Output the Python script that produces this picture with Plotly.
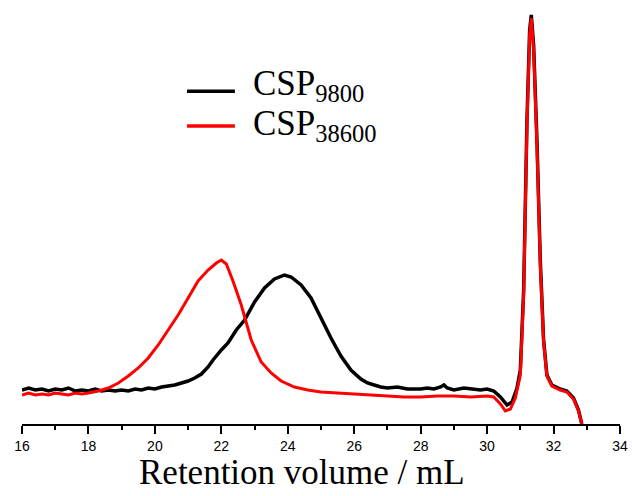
import plotly.graph_objects as go

# Retention volume (mL) and detector signal (arbitrary units, baseline ~0 at axis)
x_9800 = [16.0, 16.2, 16.4, 16.6, 16.8, 17.0, 17.2, 17.4, 17.6, 17.8, 18.0, 18.2, 18.4, 18.6,
          18.8, 19.0, 19.2, 19.4, 19.6, 19.8, 20.0, 20.2, 20.4, 20.6, 20.8, 21.0, 21.2,
          21.4, 21.6, 21.75, 22.0, 22.2, 22.45, 22.7, 23.0, 23.3, 23.6, 23.9, 24.1, 24.4,
          24.7, 25.0, 25.3, 25.6, 25.9, 26.2, 26.4, 26.6, 26.8, 27.0, 27.3, 27.6, 28.0,
          28.2, 28.4, 28.6, 28.7, 28.8, 29.0, 29.3, 29.5, 29.8, 30.0, 30.2, 30.4, 30.6,
          30.75, 30.9, 31.0, 31.1, 31.2, 31.28, 31.33, 31.4, 31.5, 31.6, 31.7, 31.8, 31.95,
          32.2, 32.4, 32.6, 32.75, 32.85]
y_9800 = [34, 36, 34, 35, 33, 35, 34, 36, 33, 34, 33, 35, 33, 34,
          33, 34, 33, 35, 34, 36, 35, 37, 38, 39, 41, 43, 46,
          50, 57, 64, 74, 81, 94, 104, 122, 136, 145, 149, 147, 139,
          126, 106, 86, 68, 54, 45, 41, 39, 37, 36, 37, 35, 35,
          36, 35, 37, 39, 36, 34, 36, 35, 34, 35, 33, 27, 19,
          22, 36, 54, 134, 304, 394, 409, 379, 284, 164, 84, 49, 39,
          35, 33, 26, 14, 0]

x_38600 = [16.0, 16.2, 16.4, 16.6, 16.8, 17.0, 17.2, 17.4, 17.6, 17.8, 18.0, 18.3, 18.6, 18.9,
           19.2, 19.5, 19.8, 20.1, 20.4, 20.7, 21.0, 21.3, 21.6, 21.85, 22.0, 22.15, 22.35,
           22.6, 22.9, 23.2, 23.5, 23.8, 24.2, 24.6, 25.0, 25.5, 26.0, 26.5, 27.0, 27.5,
           28.0, 28.5, 29.0, 29.5, 30.0, 30.2, 30.4, 30.55, 30.7, 30.85, 31.0, 31.1, 31.2,
           31.28, 31.33, 31.4, 31.5, 31.6, 31.7, 31.8, 31.95, 32.2, 32.4, 32.6, 32.75, 32.85]
y_38600 = [29, 31, 29, 30, 29, 31, 30, 29, 31, 30, 31, 33, 36, 41,
           48, 56, 66, 79, 94, 109, 126, 143, 154, 161, 164, 160, 143,
           119, 84, 62, 51, 43, 37, 34, 32, 31, 30, 29, 28, 27,
           27, 28, 28, 27, 28, 27, 20, 13, 15, 26, 49, 129, 299,
           389, 406, 374, 279, 159, 82, 48, 38, 34, 32, 25, 13, 0]

x_ticks = [16, 18, 20, 22, 24, 26, 28, 30, 32, 34]

series_names = ["CSP<sub>9800</sub>", "CSP<sub>38600</sub>"]
series_colors = ["black", "#ff0000"]
x_title = "Retention volume / mL"

fig = go.Figure()
fig.add_trace(go.Scatter(x=x_9800, y=y_9800, mode="lines", name=series_names[0],
                         line=dict(color=series_colors[0], width=3.5), showlegend=False))
fig.add_trace(go.Scatter(x=x_38600, y=y_38600, mode="lines", name=series_names[1],
                         line=dict(color=series_colors[1], width=3), showlegend=False))

# Hand-placed legend (lines + labels) in paper coordinates
legend_line_y = [0.785, 0.703]
legend_text_y = [0.799, 0.703]
for name, color, ly, ty in zip(series_names, series_colors, legend_line_y, legend_text_y):
    fig.add_shape(type="line", xref="paper", yref="paper", x0=0.276, x1=0.356, y0=ly, y1=ly,
                  line=dict(color=color, width=3.5))
    fig.add_annotation(xref="paper", yref="paper", x=0.383, y=ty, text=name,
                       showarrow=False, xanchor="left", yanchor="middle",
                       font=dict(family="Liberation Serif", size=35, color="black"))

# Axis title (offset left of centre as in the original)
fig.add_annotation(xref="paper", yref="paper", x=0.468, y=-0.114, text=x_title,
                   showarrow=False, xanchor="center", yanchor="middle",
                   font=dict(family="Liberation Serif", size=35, color="black"))

fig.update_layout(
    width=632, height=496,
    margin=dict(l=22, r=12, t=0, b=72),
    paper_bgcolor="white", plot_bgcolor="white",
    showlegend=False,
    xaxis=dict(range=[16, 34], tickvals=x_ticks, ticktext=[str(t) for t in x_ticks],
               showgrid=False, zeroline=False, showline=True, linecolor="black", linewidth=2,
               ticks="outside", ticklen=8, tickwidth=2, tickcolor="black",
               minor=dict(dtick=1, ticks="outside", ticklen=4, tickwidth=2, tickcolor="black"),
               tickfont=dict(family="Liberation Sans", size=14, color="black")),
    yaxis=dict(range=[0, 424], visible=False, showgrid=False, zeroline=False),
)

fig.write_html("out.html")
